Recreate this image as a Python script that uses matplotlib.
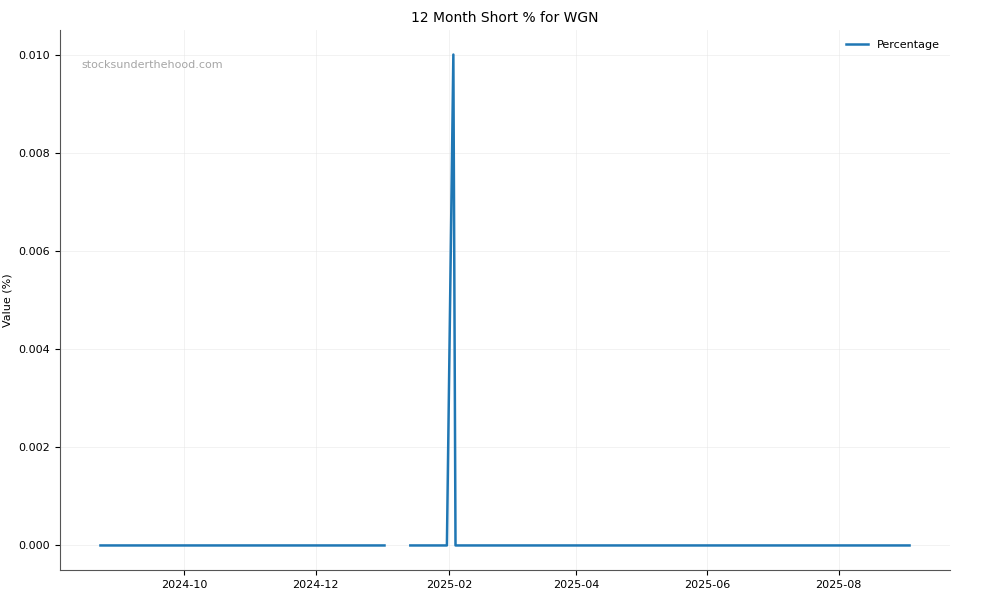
import matplotlib
matplotlib.use('Agg')
import matplotlib.pyplot as plt
import matplotlib.dates as mdates
import numpy as np
import pandas as pd


#short interest percentage, business-day series; nan marks the missing stretch in january
dates = ['2024-08-23', '2025-01-02', '2025-01-08', '2025-01-14',
         '2025-01-31', '2025-02-03', '2025-02-04', '2025-09-03']
values = [0.0, 0.0, np.nan, 0.0, 0.0, 0.010, 0.0, 0.0]

ticker = 'WGN'


def plot(df):

    fig = plt.figure(figsize=(10, 6), dpi=100)
    ax = fig.add_axes([0.06, 0.05, 0.89, 0.90])

    ax.plot(df.index, df['Percentage'], label='Percentage', color='#1f77b4', lw=1.8)

    ax.set_title('12 Month Short % for ' + ticker, fontsize=10)
    ax.set_ylabel('Value (%)', fontsize=8)
    ax.tick_params(labelsize=8)

    ax.xaxis.set_major_locator(mdates.MonthLocator(bymonth=[2, 4, 6, 8, 10, 12]))
    ax.xaxis.set_major_formatter(mdates.DateFormatter('%Y-%m'))
    ax.yaxis.set_major_formatter(matplotlib.ticker.FormatStrFormatter('%.3f'))

    ax.grid(True, color='#e6e6e6', lw=0.6, alpha=0.6)
    ax.spines['top'].set_visible(False)
    ax.spines['right'].set_visible(False)
    for s in ['left', 'bottom']:
        ax.spines[s].set_color('#555555')

    ax.text(0.024, 0.935, 'stocksunderthehood.com', transform=ax.transAxes,
            fontsize=8, color='gray', alpha=0.7, va='center')

    ax.legend(loc='upper right', frameon=False, fontsize=8)

    fig.savefig('out.png')


def main():

    df = pd.DataFrame({'Percentage': values}, index=pd.to_datetime(dates))
    plot(df)


if __name__ == '__main__':
    main()
